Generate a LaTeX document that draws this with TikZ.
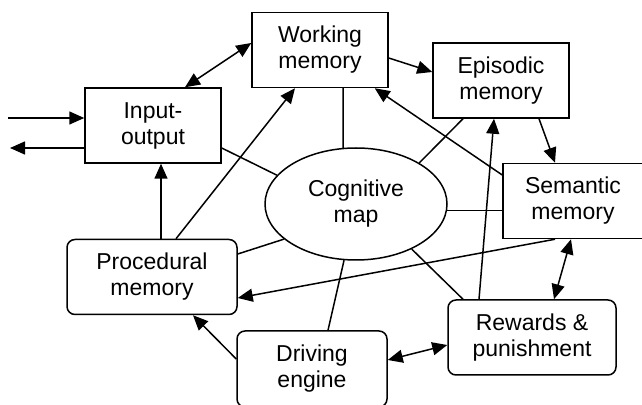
\documentclass[tikz,border=0pt]{standalone}
\usepackage{fontspec}
\setmainfont{Liberation Sans}
\usetikzlibrary{arrows.meta,calc,shapes.geometric}
\begin{document}
\begin{tikzpicture}[x=1pt,y=1pt,
  every node/.style={font=\fontsize{23}{26}\selectfont, align=center, inner sep=0pt},
  sqbox/.style={draw, line width=1.5pt, minimum width=136pt, minimum height=75pt},
  rbox/.style={draw, line width=1.5pt, rounded corners=8pt, minimum height=75pt},
  ln/.style={line width=1.5pt},
  ar/.style={ln, -{Triangle[length=15pt,width=13pt]}},
  dar/.style={ln, {Triangle[length=15pt,width=13pt]}-{Triangle[length=15pt,width=13pt]}}
]
\useasboundingbox (0,0) rectangle (642,404);
\clip (0,0) rectangle (642,404);
\node[sqbox] (io) at (153,278.5) {Input-\\output};
\node[sqbox] (wm) at (320,354) {Working\\memory};
\node[sqbox] (ep) at (501,323.5) {Episodic\\memory};
\node[sqbox, minimum width=140pt] (sm) at (573,203) {Semantic\\memory};
\node[rbox, minimum width=170pt] (pm) at (152,127) {Procedural\\memory};
\node[rbox, minimum width=150pt, minimum height=76pt] (de) at (312,35) {Driving\\engine};
\node[rbox, minimum width=168pt] (rp) at (532,66.5) {Rewards \&\\punishment};
\node[draw, ln, ellipse, minimum width=182pt, minimum height=112pt] (cm) at (356,200) {Cognitive\\map};
\coordinate (in1) at (8,286);
\coordinate (out1) at (10,256);
% external I/O
\draw[ar] (in1) -- (in1 -| io.west);
\draw[ar] (io.west |- out1) -- (out1);
% box connectors
\draw[dar] ($(io.north)+(32,0)$) -- ($(wm.west)+(0,7)$);
\draw[ar] ($(pm.north)+(9,0)$) -- ($(io.south)+(8,0)$);
\draw[ar] ($(pm.north)+(24,0)$) -- ($(wm.south)+(-25,0)$);
\draw[ar] ($(wm.east)+(0,-8)$) -- ($(ep.west)+(0,8.5)$);
\draw[ar] ($(rp.north)+(-53,0)$) -- ($(ep.south)+(-7,0)$);
\draw[ar] ($(sm.west)+(0,26)$) -- ($(wm.south east)+(-14,0)$);
\draw[ar] ($(ep.south)+(38,0)$) -- ($(sm.north)+(-18,0)$);
\draw[ar] ($(sm.south)+(-18,0)$) -- ($(pm.east)+(0,-21)$);
\draw[dar] ($(sm.south)+(-2,0)$) -- ($(rp.north)+(22,0)$);
\draw[ar] ($(de.west)+(0,10)$) -- ($(pm.south)+(41,0)$);
\draw[dar] ($(de.east)+(0,9)$) -- ($(rp.west)+(0,-7.5)$);
% cognitive map links
\draw[ln] ($(io.east)+(0,-22.5)$) -- (cm.160);
\draw[ln] ($(wm.south)+(23,0)$) -- (cm.103);
\draw[ln] ($(ep.south)+(-38,0)$) -- (cm.33);
\draw[ln] (cm.-4) -- (cm.-4 -| sm.west);
\draw[ln] (cm.-39) -- ($(rp.north)+(-69,0)$);
\draw[ln] (cm.206) -- ($(pm.east)+(0,23)$);
\draw[ln] (cm.258) -- ($(de.north)+(16,0)$);
\end{tikzpicture}
\end{document}
